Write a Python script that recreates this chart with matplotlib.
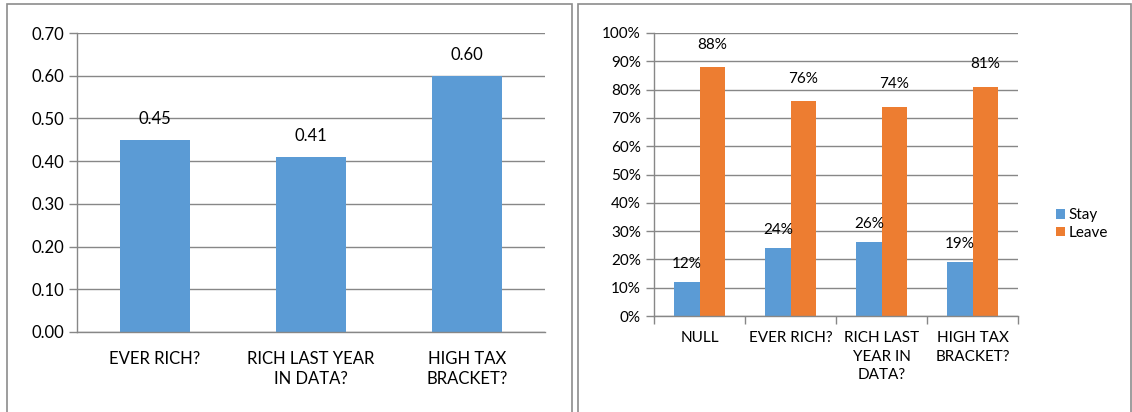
import matplotlib
matplotlib.use("Agg")
import matplotlib.pyplot as plt
import matplotlib.patches as patches
from matplotlib.ticker import FuncFormatter
import numpy as np

# left panel: average values by group
left_cats = ["EVER RICH?", "RICH LAST YEAR\nIN DATA?", "HIGH TAX\nBRACKET?"]
left_vals = [0.45, 0.41, 0.60]
left_ticks = [0.0, 0.1, 0.2, 0.3, 0.4, 0.5, 0.6, 0.7]

# right panel: stay / leave shares
right_cats = ["NULL", "EVER RICH?", "RICH LAST\nYEAR IN\nDATA?", "HIGH TAX\nBRACKET?"]
stay = [0.12, 0.24, 0.26, 0.19]
leave = [0.88, 0.76, 0.74, 0.81]
right_ticks = [0.0, 0.1, 0.2, 0.3, 0.4, 0.5, 0.6, 0.7, 0.8, 0.9, 1.0]

BLUE = "#5B9BD5"
ORANGE = "#ED7D31"
GRID = "#878787"
FS = 12
FS2 = 11

plt.rcParams["font.family"] = ["Lato", "DejaVu Sans"]

W, H = 1132, 412
fig = plt.figure(figsize=(W / 100, H / 100), dpi=100)


def fx(px):
    return px / W


def fy(py):
    return 1 - py / H


# panel frames
for x0, x1 in [(7, 572), (578, 1131)]:
    fig.patches.append(patches.Rectangle((fx(x0), fy(420)), fx(x1 - x0), (420 - 4) / H,
                                         transform=fig.transFigure, fill=False,
                                         edgecolor="#8c8c8c", linewidth=1.2))


def style(ax, fs, pad):
    for s in ["top", "right"]:
        ax.spines[s].set_visible(False)
    for s in ["left", "bottom"]:
        ax.spines[s].set_color(GRID)
        ax.spines[s].set_linewidth(1)
    ax.yaxis.grid(True, color=GRID, linewidth=1)
    ax.set_axisbelow(True)
    ax.tick_params(axis="y", colors=GRID, labelcolor="black", labelsize=fs, length=6, width=1)
    ax.tick_params(axis="x", which="major", length=0, labelsize=fs, pad=pad)
    ax.tick_params(axis="x", which="minor", colors=GRID, length=6, width=1)


# left chart
ax1 = fig.add_axes([fx(77), fy(332), fx(545 - 77), (332 - 33) / H])
x1 = np.arange(len(left_cats))
ax1.bar(x1, left_vals, width=0.45, color=BLUE)
for xi, v in zip(x1, left_vals):
    ax1.annotate(f"{v:.2f}", (xi, v), xytext=(0, 9), textcoords="offset points",
                 ha="center", va="bottom", fontsize=FS)
ax1.set_xlim(-0.5, len(left_cats) - 0.5)
ax1.set_ylim(0, 0.70)
ax1.set_yticks(left_ticks)
ax1.yaxis.set_major_formatter(FuncFormatter(lambda v, p: f"{v:.2f}"))
ax1.set_xticks(x1)
ax1.set_xticklabels(left_cats, linespacing=1.3)
ax1.set_xticks(np.arange(len(left_cats) + 1) - 0.5, minor=True)
style(ax1, FS, 14)
ax1.tick_params(axis="x", which="minor", length=0)

# right chart
ax2 = fig.add_axes([fx(654), fy(316), fx(1018 - 654), (316 - 33) / H])
x2 = np.arange(len(right_cats))
bw = 0.28
b1 = ax2.bar(x2 - bw / 2, stay, width=bw, color=BLUE, label="Stay")
b2 = ax2.bar(x2 + bw / 2, leave, width=bw, color=ORANGE, label="Leave")
for xi, v in zip(x2, stay):
    ax2.annotate(f"{v:.0%}", (xi - bw / 2, v), xytext=(0, 8), textcoords="offset points",
                 ha="center", va="bottom", fontsize=FS2)
for xi, v in zip(x2, leave):
    ax2.annotate(f"{v:.0%}", (xi + bw / 2, v), xytext=(0, 11), textcoords="offset points",
                 ha="center", va="bottom", fontsize=FS2)
ax2.set_xlim(-0.5, len(right_cats) - 0.5)
ax2.set_ylim(0, 1.0)
ax2.set_yticks(right_ticks)
ax2.yaxis.set_major_formatter(FuncFormatter(lambda v, p: f"{v:.0%}"))
ax2.set_xticks(x2)
ax2.set_xticklabels(right_cats, linespacing=1.4)
ax2.set_xticks(np.arange(len(right_cats) + 1) - 0.5, minor=True)
style(ax2, FS2, 11)

ax2.legend(handles=[b1, b2], loc="center left", bbox_to_anchor=(fx(1056), fy(224)),
           bbox_transform=fig.transFigure, frameon=False, fontsize=FS2,
           handlelength=0.6, handleheight=0.6, handletextpad=0.2, labelspacing=0.25,
           borderaxespad=0, borderpad=0)

fig.savefig("out.png", dpi=100)
